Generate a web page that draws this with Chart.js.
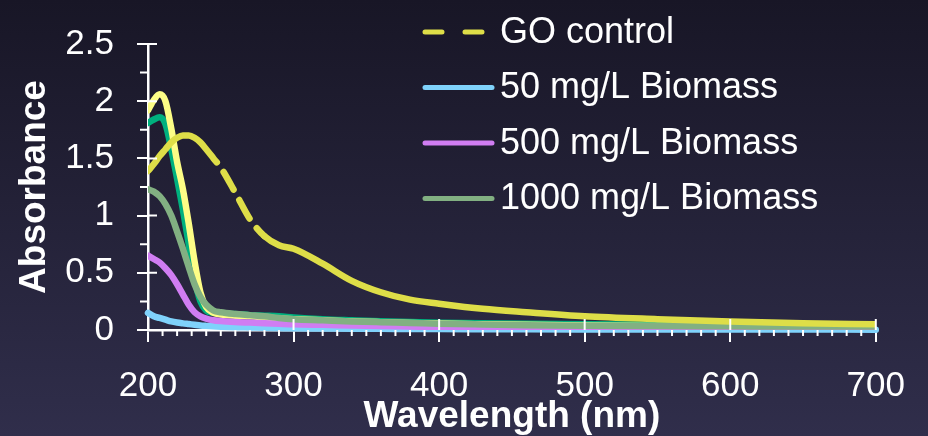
<!DOCTYPE html>
<html>
<head>
<meta charset="utf-8">
<script src="https://cdn.jsdelivr.net/npm/chart.js@4"></script>
<style>
  html, body { margin: 0; padding: 0; }
  body { width: 928px; height: 436px; overflow: hidden; background: linear-gradient(#181626, #302e4b); }
  #wrap { position: relative; width: 928px; height: 436px; }
</style>
</head>
<body>
<div id="wrap"><canvas id="absChart"></canvas></div>
<script>
// wavelength (nm) and absorbance
const wavelengths = [200, 204, 208, 212, 216, 220, 224, 228, 232, 236, 240, 245, 250, 260, 270, 280, 290, 300, 320, 340, 360, 380, 400, 430, 460, 500, 550, 600, 650, 700, 705];

const goControl = [1.39, 1.45, 1.52, 1.58, 1.64, 1.68, 1.70, 1.70, 1.68, 1.64, 1.58, 1.50, 1.42, 1.20, 0.97, 0.82, 0.74, 0.71, 0.58, 0.43, 0.33, 0.265, 0.23, 0.185, 0.155, 0.12, 0.095, 0.075, 0.06, 0.05, null];
const biomass50 = [0.15, 0.12, 0.105, 0.09, 0.075, 0.065, 0.058, 0.052, 0.046, 0.04, 0.036, 0.032, 0.029, 0.025, 0.022, 0.019, 0.017, 0.015, 0.013, 0.011, 0.01, 0.009, 0.008, 0.007, 0.006, 0.005, 0.005, 0.004, 0.004, 0.003, 0.003];
const biomass500 = [0.65, 0.62, 0.59, 0.54, 0.48, 0.40, 0.31, 0.22, 0.155, 0.12, 0.10, 0.085, 0.078, 0.07, 0.065, 0.06, 0.055, 0.05, 0.045, 0.04, 0.035, 0.03, 0.025, 0.02, 0.018, 0.015, 0.012, 0.01, 0.01, 0.01, null];
const biomass1000 = [1.23, 1.21, 1.17, 1.10, 1.00, 0.86, 0.71, 0.55, 0.40, 0.29, 0.22, 0.17, 0.155, 0.14, 0.13, 0.12, 0.105, 0.095, 0.085, 0.075, 0.068, 0.062, 0.055, 0.048, 0.042, 0.037, 0.034, 0.032, 0.03, 0.03, null];
// two extra traces that have no legend entry
const extraYellow = [1.92, 2.01, 2.06, 2.00, 1.76, 1.47, 1.23, 0.93, 0.60, 0.33, 0.20, 0.15, 0.135, 0.125, 0.12, 0.11, 0.1, 0.095, 0.085, 0.075, 0.068, 0.062, 0.056, 0.05, 0.045, 0.04, 0.036, 0.034, 0.032, 0.032, null];
const extraTeal = [1.81, 1.84, 1.86, 1.80, 1.58, 1.32, 1.05, 0.75, 0.45, 0.25, 0.17, 0.15, 0.145, 0.14, 0.13, 0.125, 0.12, 0.11, 0.095, 0.085, 0.076, 0.07, 0.064, 0.058, 0.054, 0.05, 0.048, 0.046, 0.045, 0.045, null];

const xTicks = [200, 300, 400, 500, 600, 700];
const yTicks = [0, 0.5, 1, 1.5, 2, 2.5];

const pts = arr => wavelengths.map((w, i) => ({ x: w, y: arr[i] }));

const fontName = "'Liberation Sans', Arial, sans-serif";

function line(label, values, color, order) {
  return {
    label: label,
    data: pts(values),
    borderColor: color,
    backgroundColor: color,
    borderWidth: 6.5,
    borderCapStyle: 'round',
    borderJoinStyle: 'round',
    pointRadius: 0,
    cubicInterpolationMode: 'monotone',
    order: order
  };
}

const goSet = line('GO control', goControl, '#dede48', 0);
goSet.legendDash = [17, 23];
// the control is dashed near the peak and solid afterwards
goSet.segment = {
  borderDash: ctx => ctx.p0.parsed.x < 280 ? [96, 12, 20, 12, 21, 12, 20, 12] : []
};

const blueSet = line('50 mg/L Biomass', biomass50, '#7fd2fb', 3);
blueSet.clip = false;

const datasets = [
  goSet,
  blueSet,
  line('500 mg/L Biomass', biomass500, '#d07df2', 2),
  line('1000 mg/L Biomass', biomass1000, '#82b082', 1),
  line('', extraYellow, '#fdfd86', 4),
  line('', extraTeal, '#00b07e', 5)
];

// minor ticks + inner half of major ticks
const axisMarks = {
  id: 'axisMarks',
  afterDatasetsDraw(chart) {
    const { ctx, scales: { x, y } } = chart;
    const bottom = y.getPixelForValue(0);
    const left = x.getPixelForValue(200);
    ctx.save();
    ctx.strokeStyle = '#ffffff';
    ctx.lineWidth = 2;
    ctx.beginPath();
    for (let v = 210; v < 700; v += 10) {
      if (v % 100 === 0) continue;
      const px = x.getPixelForValue(v);
      ctx.moveTo(px, bottom);
      ctx.lineTo(px, bottom + 6);
    }
    xTicks.forEach(v => {
      const px = x.getPixelForValue(v);
      ctx.moveTo(px, bottom);
      ctx.lineTo(px, bottom - 11);
    });
    yTicks.forEach(v => {
      const py = y.getPixelForValue(v);
      ctx.moveTo(left, py);
      ctx.lineTo(left + 9, py);
    });
    for (let i = 0; i < yTicks.length - 1; i++) {
      const py = y.getPixelForValue((yTicks[i] + yTicks[i + 1]) / 2);
      ctx.moveTo(left, py);
      ctx.lineTo(left - 8, py);
    }
    ctx.stroke();
    ctx.restore();
  }
};

const legendBox = {
  id: 'legendBox',
  afterDraw(chart) {
    const ctx = chart.ctx;
    let row = 32;
    ctx.save();
    ctx.font = '36px ' + fontName;
    ctx.textBaseline = 'middle';
    ctx.fillStyle = '#ffffff';
    chart.data.datasets.forEach(ds => {
      if (!ds.label) return;
      ctx.beginPath();
      ctx.setLineDash(ds.legendDash || []);
      ctx.lineCap = 'round';
      ctx.lineWidth = 5;
      ctx.strokeStyle = ds.borderColor;
      ctx.moveTo(425, row);
      ctx.lineTo(492, row);
      ctx.stroke();
      ctx.fillText(ds.label, 500, row + 1);
      row += 55.5;
    });
    ctx.restore();
  }
};

const config = {
  type: 'line',
  data: { datasets: datasets },
  options: {
    responsive: true,
    maintainAspectRatio: false,
    animation: false,
    layout: { padding: { top: 24, right: 49, left: 0, bottom: 0 } },
    scales: {
      x: {
        type: 'linear',
        min: 200,
        max: 700,
        afterFit: scale => { scale.height = 106; },
        afterBuildTicks: scale => { scale.ticks = xTicks.map(v => ({ value: v })); },
        grid: { display: true, drawOnChartArea: false, color: '#ffffff', tickLength: 12, lineWidth: 2 },
        border: { color: '#ffffff', width: 2.5 },
        ticks: { color: '#ffffff', font: { family: fontName, size: 35 }, padding: 23, maxRotation: 0 },
        title: {
          display: true,
          text: 'Wavelength (nm)',
          color: '#ffffff',
          font: { family: fontName, size: 37, weight: 'bold' },
          padding: { top: 0, bottom: -3 }
        }
      },
      y: {
        min: 0,
        max: 2.5,
        afterFit: scale => { scale.width = 148; },
        afterBuildTicks: scale => { scale.ticks = yTicks.map(v => ({ value: v })); },
        grid: { display: true, drawOnChartArea: false, color: '#ffffff', tickLength: 11, lineWidth: 2 },
        border: { color: '#ffffff', width: 2.5 },
        ticks: {
          color: '#ffffff',
          font: { family: fontName, size: 35 },
          padding: 23,
          callback: value => String(value)
        },
        title: {
          display: true,
          text: 'Absorbance',
          color: '#ffffff',
          font: { family: fontName, size: 37, weight: 'bold' },
          padding: { top: 13, bottom: 0 }
        }
      }
    },
    plugins: {
      legend: { display: false },
      tooltip: { enabled: false }
    }
  },
  plugins: [axisMarks, legendBox]
};

const absChart = new Chart(document.getElementById('absChart'), config);
</script>
</body>
</html>
